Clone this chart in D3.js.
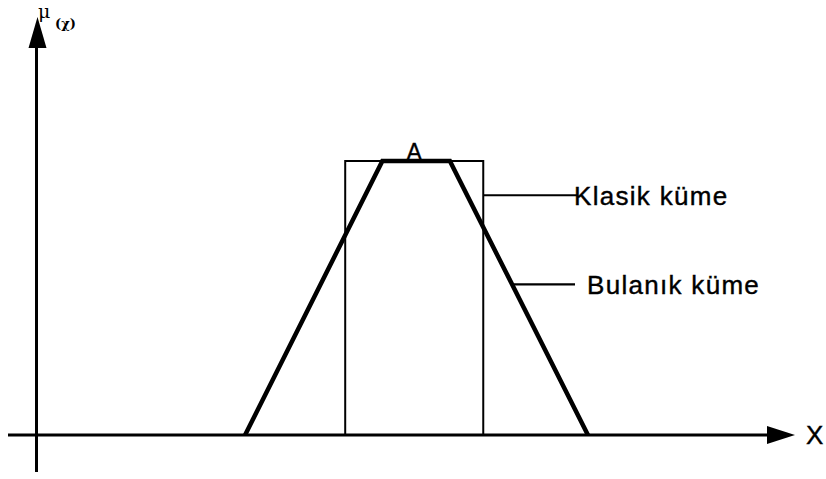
<!DOCTYPE html>
<html>
<head>
<meta charset="utf-8">
<script src="https://cdn.jsdelivr.net/npm/d3@7"></script>
<style>
  body { margin: 0; background: #fff; }
  text { font-family: "Liberation Sans", Arial, sans-serif; fill: #000; }
</style>
</head>
<body>
<div id="chart"></div>
<script>
// x in arbitrary units, mu in [0,1]
let fuzzyX = [2.75, 4.56, 5.45, 7.27];
let fuzzyMu = [0, 1, 1, 0];
let crispX = [4.07, 4.07, 5.89, 5.89];
let crispMu = [0, 1, 1, 0];
let labels = ["Klasik küme", "Bulanık küme"];
let labelMu = [0.875, 0.55];
let setName = "A";

let width = 826, height = 479;

let x = d3.scaleLinear().domain([0, 10]).range([36.5, 795]);
let y = d3.scaleLinear().domain([0, 1]).range([435, 161]);

let svg = d3.select("#chart").append("svg")
  .attr("width", width)
  .attr("height", height);

// axes
svg.append("line")
  .attr("x1", 8).attr("x2", 770)
  .attr("y1", y(0)).attr("y2", y(0))
  .attr("stroke", "#000").attr("stroke-width", 3);
svg.append("path")
  .attr("d", `M${x(10) - 28},${y(0) - 9} L${x(10)},${y(0)} L${x(10) - 28},${y(0) + 9} Z`)
  .attr("fill", "#000");
svg.append("text")
  .attr("x", 806).attr("y", y(0) + 9)
  .attr("font-size", 26)
  .attr("stroke", "#000").attr("stroke-width", 0.4)
  .text("X");

svg.append("line")
  .attr("x1", x(0)).attr("x2", x(0))
  .attr("y1", 472).attr("y2", 44)
  .attr("stroke", "#000").attr("stroke-width", 3);
svg.append("path")
  .attr("d", `M${x(0) - 8},48 L${x(0) + 1},17 L${x(0) + 10},48 Z`)
  .attr("fill", "#000");
svg.append("text")
  .attr("x", 38).attr("y", 18)
  .style("font-family", "'DejaVu Serif', serif")
  .attr("font-size", 19)
  .text("μ");
svg.append("text")
  .attr("x", 55).attr("y", 28)
  .style("font-family", "'DejaVu Serif', serif")
  .attr("font-size", 13)
  .attr("font-weight", "bold")
  .text("(χ)");

let line = d3.line()
  .x(d => x(d[0]))
  .y(d => y(d[1]));

// crisp set (rectangle)
svg.append("path")
  .attr("d", line(d3.zip(crispX, crispMu)))
  .attr("fill", "none")
  .attr("stroke", "#000")
  .attr("stroke-width", 2);

// fuzzy set (trapezoid)
svg.append("path")
  .attr("d", line(d3.zip(fuzzyX, fuzzyMu)))
  .attr("fill", "none")
  .attr("stroke", "#000")
  .attr("stroke-width", 4.5)
  .attr("stroke-linejoin", "miter");

svg.append("text")
  .attr("x", (x(fuzzyX[1]) + x(fuzzyX[2])) / 2 - 2)
  .attr("y", y(1) - 1)
  .attr("text-anchor", "middle")
  .attr("font-size", 23)
  .attr("stroke", "#000").attr("stroke-width", 0.4)
  .text(setName);

// leader lines + labels
let rightFuzzy = d3.scaleLinear().domain([1, 0]).range([fuzzyX[2], fuzzyX[3]]);
let leaderStart = [x(crispX[3]), x(rightFuzzy(labelMu[1]))];
let leaderEnd = [577, 575];
let labelX = [574, 587];

labels.forEach((t, i) => {
  svg.append("line")
    .attr("x1", leaderStart[i]).attr("x2", leaderEnd[i])
    .attr("y1", y(labelMu[i])).attr("y2", y(labelMu[i]))
    .attr("stroke", "#000").attr("stroke-width", 2.2);
  svg.append("text")
    .attr("x", labelX[i])
    .attr("y", y(labelMu[i]) + 9.5)
    .attr("font-size", 26)
    .attr("letter-spacing", 1.3)
    .attr("stroke", "#000").attr("stroke-width", 0.4)
    .text(t);
});
</script>
</body>
</html>
